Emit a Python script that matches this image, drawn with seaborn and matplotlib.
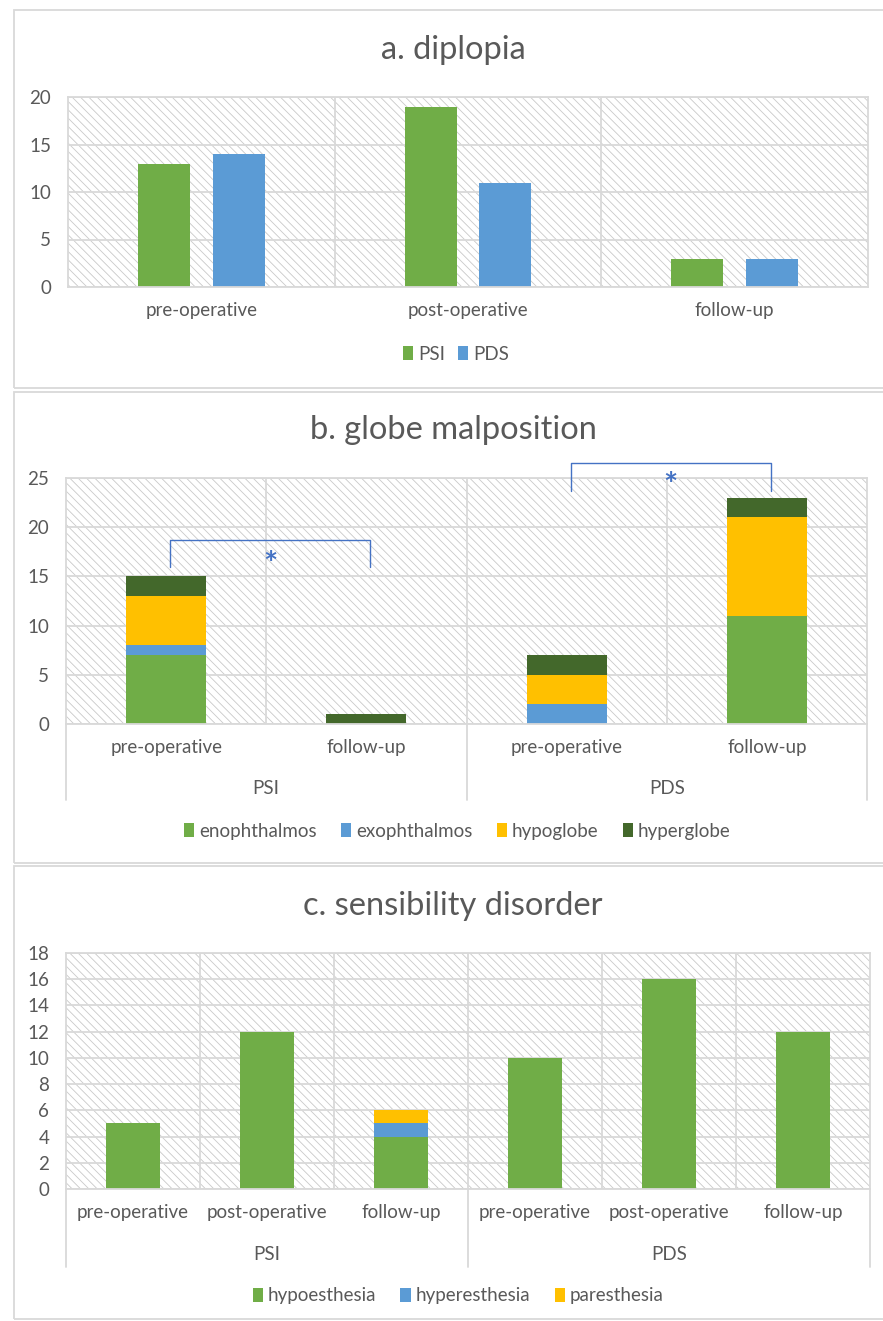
import numpy as np
import pandas as pd
import matplotlib
matplotlib.use("Agg")
import matplotlib.pyplot as plt
import seaborn as sns
from matplotlib.patches import Rectangle, Patch

# ---------------- data ----------------
stages3 = ["pre-operative", "post-operative", "follow-up"]
diplopia_psi = [13, 19, 3]
diplopia_pds = [14, 11, 3]

globe_groups = ["PSI", "PSI", "PDS", "PDS"]
globe_stages = ["pre-operative", "follow-up", "pre-operative", "follow-up"]
enophthalmos = [7, 0, 0, 11]
exophthalmos = [1, 0, 2, 0]
hypoglobe = [5, 0, 3, 10]
hyperglobe = [2, 1, 2, 2]

sens_groups = ["PSI", "PSI", "PSI", "PDS", "PDS", "PDS"]
sens_stages = ["pre-operative", "post-operative", "follow-up",
               "pre-operative", "post-operative", "follow-up"]
hypoesthesia = [5, 12, 4, 10, 16, 12]
hyperesthesia = [0, 0, 1, 0, 0, 0]
paresthesia = [0, 0, 1, 0, 0, 0]

# ---------------- style ----------------
GREEN = "#70AD47"
BLUE = "#5B9BD5"
YELLOW = "#FFC000"
DKGREEN = "#43682B"
GRID = "#D9D9D9"
HATCH = "#C9C9C9"
TXT = "#595959"
SIG = "#4472C4"
FS = 13.5
TFS = 23.5

sns.set_theme(style="white")
plt.rcParams["font.family"] = ["Lato", "DejaVu Sans"]
plt.rcParams["hatch.linewidth"] = 0.6
plt.rcParams["hatch.color"] = HATCH

W, H = 883, 1321
fig = plt.figure(figsize=(W / 100, H / 100), dpi=100)


def fx(x):
    return x / W


def fy(y):
    return 1 - y / H


def make_ax(left, right, top, bottom):
    return fig.add_axes([fx(left), fy(bottom), (right - left) / W, (bottom - top) / H])


def setup(ax, n, ymax, ystep):
    ax.set_xlim(-0.5, n - 0.5)
    ax.set_ylim(0, ymax)
    ax.set_yticks(np.arange(0, ymax + 0.01, ystep))
    ax.set_xticks(np.arange(n - 1) + 0.5, minor=True)
    ax.grid(True, which="major", axis="y", color=GRID, lw=1.3)
    ax.grid(True, which="minor", axis="x", color=GRID, lw=1.3)
    ax.xaxis.grid(False, which="major")
    ax.set_axisbelow(True)
    for s in ax.spines.values():
        s.set_color(GRID)
        s.set_linewidth(1.3)
    ax.tick_params(which="both", length=0)
    ax.tick_params(axis="y", pad=12, labelsize=FS, labelcolor=TXT)
    ax.tick_params(axis="x", pad=11, labelsize=FS, labelcolor=TXT)
    bg = Rectangle((0, 0), 1, 1, transform=ax.transAxes, facecolor="white",
                   edgecolor=HATCH, hatch="\\\\\\\\", lw=0, zorder=0)
    ax.add_patch(bg)
    ax.set_xlabel("")
    ax.set_ylabel("")


def panel_box(top, bottom):
    fig.add_artist(Rectangle((fx(14), fy(bottom)), (W + 20 - 14) / W, (bottom - top) / H,
                             transform=fig.transFigure, fill=False,
                             edgecolor=GRID, lw=1.3))


def legend(handles_colors, labels, xc, yc, colsp=1.3):
    hs = [Patch(facecolor=c, edgecolor="none") for c in handles_colors]
    fig.legend(hs, labels, loc="center", bbox_to_anchor=(fx(xc), fy(yc)),
               ncol=len(labels), frameon=False, fontsize=FS, labelcolor=TXT,
               handlelength=0.55, handleheight=0.85, handletextpad=0.25,
               columnspacing=colsp)


def group_axis(ax, n, groups, depth_px, label_px, ax_h_px):
    uniq = []
    for g in groups:
        if g not in uniq:
            uniq.append(g)
    size = n // len(uniq)
    bounds = [-0.5 + i * size for i in range(len(uniq) + 1)]
    tr = ax.get_xaxis_transform()
    for b in bounds:
        ax.plot([b, b], [0, -depth_px / ax_h_px], color=GRID, lw=1.3,
                transform=tr, clip_on=False)
    for i, g in enumerate(uniq):
        ax.text(-0.5 + size * (i + 0.5), -label_px / ax_h_px, g, transform=tr,
                ha="center", va="center", fontsize=FS, color=TXT)


# ---------------- panel a ----------------
panel_box(10, 388)
fig.text(fx(453), fy(50), "a. diplopia", ha="center", va="center", fontsize=TFS, color=TXT)
axa = make_ax(68, 868, 97, 287)
dfa = pd.DataFrame({
    "stage": stages3 * 2,
    "group": ["PSI"] * 3 + ["PDS"] * 3,
    "value": diplopia_psi + diplopia_pds,
})
sns.barplot(data=dfa, x="stage", y="value", hue="group", order=stages3,
            hue_order=["PSI", "PDS"], palette=[GREEN, BLUE], width=0.56, gap=0.3,
            saturation=1, errorbar=None, linewidth=0, legend=False, ax=axa)
setup(axa, 3, 20, 5)
legend([GREEN, BLUE], ["PSI", "PDS"], 456, 354, colsp=0.7)

# ---------------- panel b ----------------
panel_box(392, 863)
fig.text(fx(453), fy(430), "b. globe malposition", ha="center", va="center", fontsize=TFS, color=TXT)
axb = make_ax(66, 867, 478, 724)
keys_b = [f"{g} {s}" for g, s in zip(globe_groups, globe_stages)]
comp_b = [("enophthalmos", enophthalmos, GREEN), ("exophthalmos", exophthalmos, BLUE),
          ("hypoglobe", hypoglobe, YELLOW), ("hyperglobe", hyperglobe, DKGREEN)]
cum = np.cumsum(np.array([c[1] for c in comp_b]), axis=0)
for i in range(len(comp_b) - 1, -1, -1):
    d = pd.DataFrame({"key": keys_b, "value": cum[i]})
    sns.barplot(data=d, x="key", y="value", order=keys_b, color=comp_b[i][2],
                width=0.4, saturation=1, errorbar=None, linewidth=0, ax=axb)
setup(axb, 4, 25, 5)
axb.set_xticks(range(4))
axb.set_xticklabels(globe_stages)
group_axis(axb, 4, globe_groups, 76, 64, 246)
# significance brackets
for (x0, x1, ylo, yhi, ystar) in [(0.02, 1.02, 16.0, 18.7, 16.1), (2.02, 3.02, 23.7, 26.5, 24.1)]:
    axb.plot([x0, x0, x1, x1], [ylo, yhi, yhi, ylo], color=SIG, lw=1.0, clip_on=False, zorder=5)
    axb.text((x0 + x1) / 2, ystar, "*", ha="center", va="center", fontsize=24,
             fontweight="bold", color=SIG, zorder=6, clip_on=False)
legend([c[2] for c in comp_b], [c[0] for c in comp_b], 457, 831)

# ---------------- panel c ----------------
panel_box(866, 1319)
fig.text(fx(453), fy(906), "c. sensibility disorder", ha="center", va="center", fontsize=TFS, color=TXT)
axc = make_ax(66, 870, 953, 1189)
keys_c = [f"{g} {s}" for g, s in zip(sens_groups, sens_stages)]
comp_c = [("hypoesthesia", hypoesthesia, GREEN), ("hyperesthesia", hyperesthesia, BLUE),
          ("paresthesia", paresthesia, YELLOW)]
cumc = np.cumsum(np.array([c[1] for c in comp_c]), axis=0)
for i in range(len(comp_c) - 1, -1, -1):
    d = pd.DataFrame({"key": keys_c, "value": cumc[i]})
    sns.barplot(data=d, x="key", y="value", order=keys_c, color=comp_c[i][2],
                width=0.4, saturation=1, errorbar=None, linewidth=0, ax=axc)
setup(axc, 6, 18, 2)
axc.set_xticks(range(6))
axc.set_xticklabels(sens_stages)
group_axis(axc, 6, sens_groups, 78, 65, 236)
legend([c[2] for c in comp_c], [c[0] for c in comp_c], 458, 1296)

fig.savefig("out.png", dpi=100, facecolor="white")
